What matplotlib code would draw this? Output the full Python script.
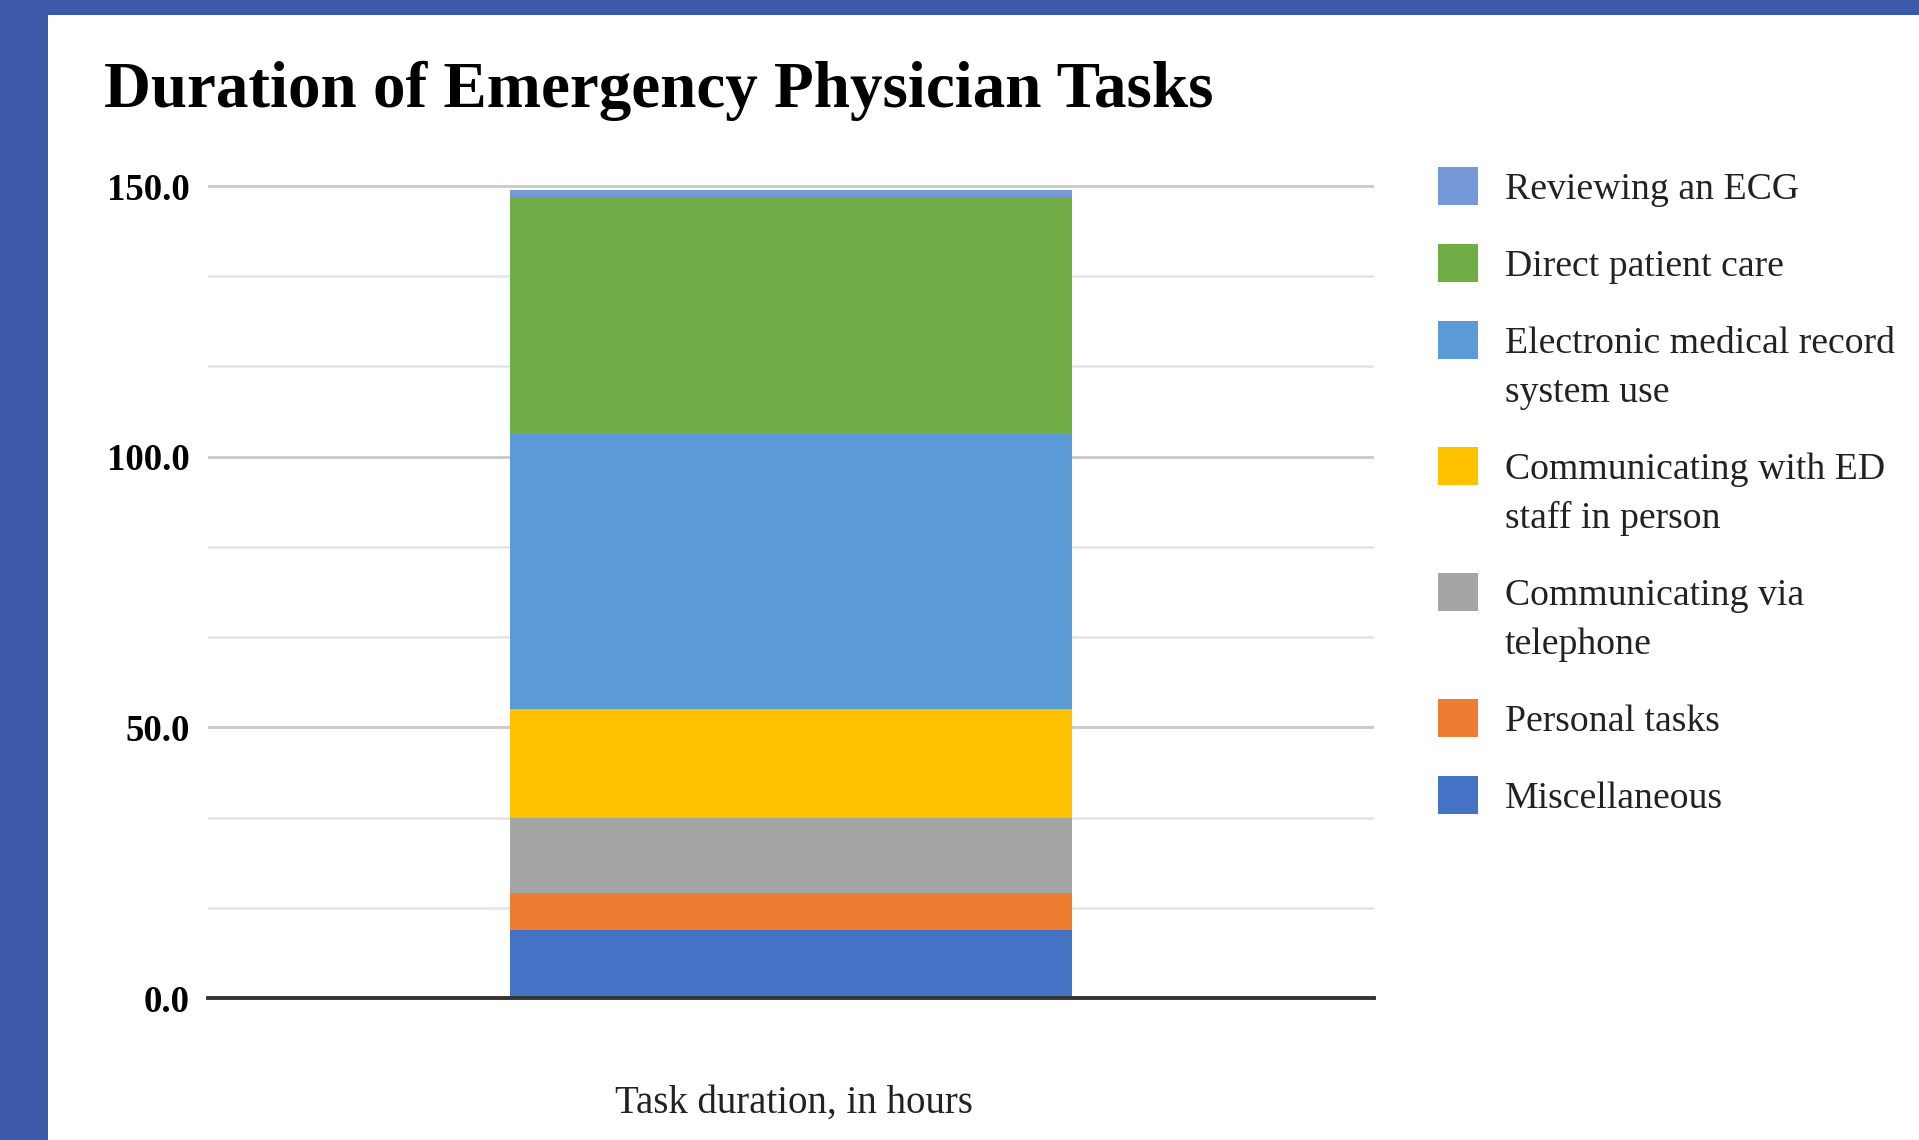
#! /usr/bin/env python3

import numpy as np
import matplotlib
matplotlib.use('Agg')
from matplotlib.pyplot import figure
from matplotlib.patches import Rectangle
from matplotlib import ticker

# Task durations (hours), stacked bottom to top
tasks = [
  'Miscellaneous',
  'Personal tasks',
  'Communicating via\ntelephone',
  'Communicating with ED\nstaff in person',
  'Electronic medical record\nsystem use',
  'Direct patient care',
  'Reviewing an ECG',
]
hours = [12.5, 6.9, 13.8, 20.2, 51.0, 43.6, 1.2]
colors = ['#4472C4', '#ED7D31', '#A5A5A5', '#FFC000', '#5B9BD5', '#70AD47', '#7598D8']
y_ticks = [0, 50, 100, 150]
y_tick_labels = ['0.0', '50.0', '100.0', '150.0']

W, H = 1919, 1140
serif = 'Liberation Serif'

fig = figure(figsize=(W / 100, H / 100), dpi=100)
fig.patch.set_facecolor('#3D5AA8')
# white page inside the blue frame (frame on left and top only)
fig.add_artist(Rectangle((48 / W, 0), 1 - 48 / W, 1 - 15 / H,
                         transform=fig.transFigure, facecolor='white',
                         edgecolor='none', zorder=0))

# axes: y=0 at px 998, y=150 at px 186
px_per = (998 - 186) / 150
ytop = 152
ax = fig.add_axes([208 / W, (H - 998) / H, (1374 - 208) / W, ytop * px_per / H])
ax.set_facecolor('none')

bottoms = np.concatenate([[0], np.cumsum(hours)[:-1]])
for v, b, c, lab in zip(hours, bottoms, colors, tasks):
  ax.bar(0, v, bottom=b, width=0.482, color=c, label=lab, zorder=2)

ax.set_xlim(-0.5, 0.5)
ax.set_ylim(0, ytop)
ax.set_xticks([])
ax.yaxis.set_major_locator(ticker.FixedLocator(y_ticks))
ax.yaxis.set_minor_locator(ticker.FixedLocator([v for v in np.arange(0, 151, 50 / 3)
                                                if min(abs(v - t) for t in y_ticks) > 1]))
ax.set_yticklabels(y_tick_labels, fontfamily=serif, fontweight='bold', fontsize=26.5)
ax.tick_params(axis='y', which='both', length=0, pad=13)
ax.grid(axis='y', which='major', color='#C9C9C9', linewidth=2.0, zorder=1)
ax.grid(axis='y', which='minor', color='#E4E4E4', linewidth=1.8, zorder=1)
ax.set_axisbelow(True)
for s in ['top', 'right', 'left']:
  ax.spines[s].set_visible(False)
ax.spines['bottom'].set_color('#333333')
ax.spines['bottom'].set_linewidth(2.8)
ax.spines['bottom'].set_zorder(3)

# title and axis caption
fig.text(104 / W, 1 - 107 / H, 'Duration of Emergency Physician Tasks',
         fontfamily=serif, fontweight='bold', fontsize=46.8, va='baseline', ha='left')
fig.text(794 / W, 1 - 1113 / H, 'Task duration, in hours',
         fontfamily=serif, fontsize=28, va='baseline', ha='center', color='#222222')

# legend, top entry first
y = 186
for lab, c in zip(tasks[::-1], colors[::-1]):
  fig.add_artist(Rectangle((1438 / W, 1 - (y + 19) / H), 40 / W, 38 / H,
                           transform=fig.transFigure, facecolor=c, edgecolor='none'))
  lines = lab.split('\n')
  for k, line in enumerate(lines):
    fig.text(1505 / W, 1 - (y + 13 + 49 * k) / H, line, fontfamily=serif,
             fontsize=27.2, va='baseline', ha='left', color='#222222')
  y += 77 + 49 * (len(lines) - 1)

fig.savefig('out.png', dpi=100, facecolor=fig.get_facecolor())
